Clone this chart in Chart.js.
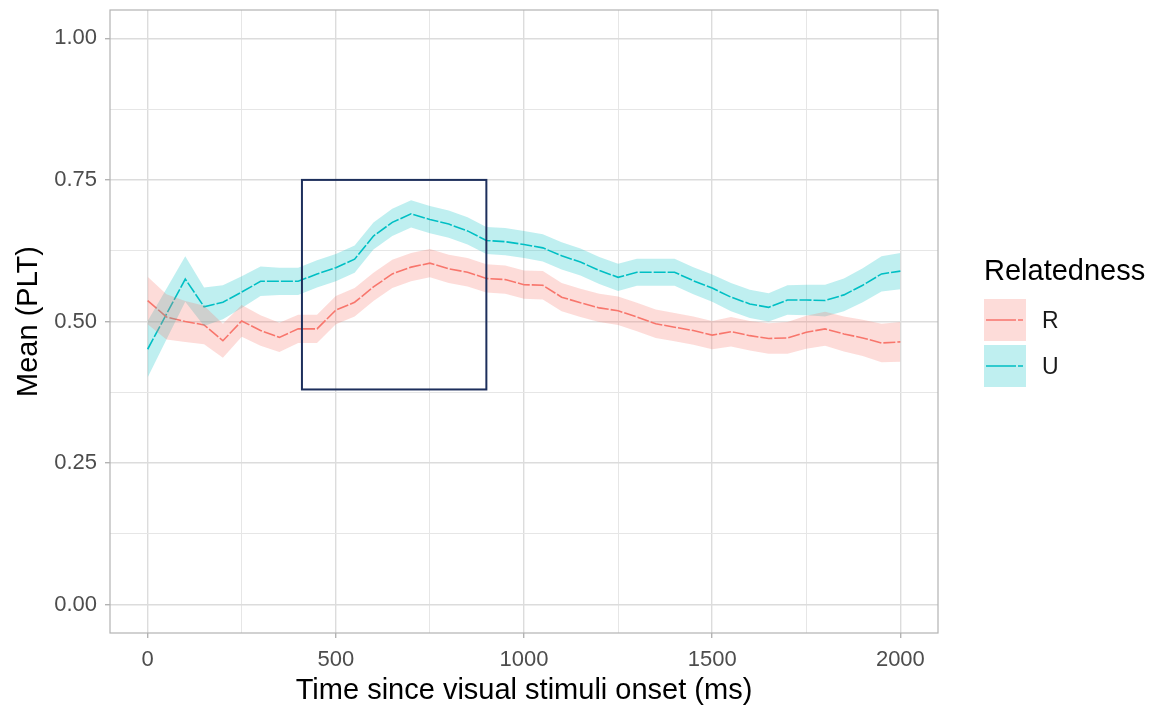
<!DOCTYPE html>
<html>
<head>
  <title>Mean PLT by relatedness</title>
  <script src="https://cdn.jsdelivr.net/npm/chart.js"></script>
  <style>
    body {
      margin: 0;
      background: #fff;
    }
  </style>
</head>
<body>
  <canvas id="pltChart" width="1159" height="710"></canvas>

  <script>
    // time since visual stimuli onset (ms)
    const times = [0, 50, 100, 150, 200, 250, 300, 350, 400, 450, 500, 550, 600, 650, 700, 750, 800, 850, 900, 950,
      1000, 1050, 1100, 1150, 1200, 1250, 1300, 1350, 1400, 1450, 1500, 1550, 1600, 1650, 1700, 1750, 1800, 1850, 1900, 1950, 2000];

    // related (R)
    const meanR = [0.537, 0.508, 0.500, 0.494, 0.466, 0.501, 0.484, 0.472, 0.487, 0.487, 0.520, 0.534, 0.561, 0.584, 0.596, 0.603, 0.593, 0.587, 0.576, 0.574,
      0.565, 0.564, 0.543, 0.533, 0.524, 0.519, 0.508, 0.496, 0.490, 0.484, 0.476, 0.482, 0.475, 0.470, 0.471, 0.481, 0.487, 0.478, 0.471, 0.462, 0.464];
    const ciR = [0.042, 0.040, 0.036, 0.034, 0.030, 0.028, 0.027, 0.026, 0.025, 0.025, 0.025, 0.025, 0.025, 0.025, 0.025, 0.025, 0.025, 0.025, 0.025, 0.025,
      0.025, 0.025, 0.025, 0.025, 0.025, 0.025, 0.025, 0.025, 0.025, 0.025, 0.025, 0.026, 0.026, 0.027, 0.028, 0.029, 0.030, 0.031, 0.032, 0.034, 0.035];

    // unrelated (U)
    const meanU = [0.451, 0.513, 0.575, 0.526, 0.534, 0.552, 0.571, 0.571, 0.571, 0.584, 0.595, 0.610, 0.651, 0.675, 0.690, 0.680, 0.672, 0.660, 0.643, 0.641,
      0.636, 0.630, 0.616, 0.605, 0.590, 0.578, 0.587, 0.587, 0.587, 0.572, 0.559, 0.543, 0.531, 0.525, 0.538, 0.538, 0.537, 0.547, 0.564, 0.584, 0.589];
    const ciU = [0.050, 0.045, 0.040, 0.034, 0.030, 0.028, 0.026, 0.024, 0.024, 0.024, 0.024, 0.024, 0.024, 0.024, 0.024, 0.024, 0.024, 0.024, 0.024, 0.024,
      0.024, 0.024, 0.024, 0.024, 0.024, 0.024, 0.024, 0.024, 0.024, 0.024, 0.024, 0.025, 0.025, 0.025, 0.026, 0.027, 0.028, 0.029, 0.030, 0.031, 0.032];

    // analysis window marked on the plot
    const windowX = [410, 900];
    const windowY = [0.38, 0.75];

    const xTicks = [0, 250, 500, 750, 1000, 1250, 1500, 1750, 2000];
    const yTicks = [0, 0.125, 0.25, 0.375, 0.5, 0.625, 0.75, 0.875, 1];

    const groups = ['R', 'U'];
    const lineColors = ['#F8766D', '#00BFC4'];
    const bandColors = ['rgba(248,118,109,0.26)', 'rgba(0,191,196,0.25)'];

    Chart.defaults.font.family = "'Liberation Sans', Arial, sans-serif";

    const pts = (vals) => times.map((t, i) => ({ x: t, y: vals[i] }));
    const bandDs = (vals, ci, sign, fill, color) => ({
      data: pts(vals.map((v, i) => v + sign * ci[i])),
      borderWidth: 0,
      pointRadius: 0,
      fill: fill,
      backgroundColor: color,
      tension: 0
    });
    const lineDs = (label, vals, color) => ({
      label: label,
      data: pts(vals),
      borderColor: color,
      borderWidth: 1.6,
      borderDash: [12, 2],
      pointRadius: 0,
      fill: false,
      tension: 0
    });

    const isMajor = (v, step) => Math.abs(v / step - Math.round(v / step)) < 1e-6;

    const overlay = {
      id: 'overlay',
      afterDatasetsDraw(chart) {
        const { ctx, chartArea: a, scales: { x, y } } = chart;
        ctx.save();

        // window rectangle
        ctx.strokeStyle = '#1d2f5c';
        ctx.lineWidth = 2;
        const x0 = x.getPixelForValue(windowX[0]);
        const x1 = x.getPixelForValue(windowX[1]);
        const y0 = y.getPixelForValue(windowY[1]);
        const y1 = y.getPixelForValue(windowY[0]);
        ctx.strokeRect(x0, y0, x1 - x0, y1 - y0);

        // panel border
        ctx.strokeStyle = '#b3b3b3';
        ctx.lineWidth = 1.2;
        ctx.strokeRect(a.left, a.top, a.right - a.left, a.bottom - a.top);

        // legend
        const lx = a.right + 46;
        ctx.fillStyle = '#000';
        ctx.font = "29px 'Liberation Sans', Arial, sans-serif";
        ctx.textBaseline = 'middle';
        ctx.textAlign = 'left';
        ctx.fillText('Relatedness', lx, 272);

        groups.forEach((g, i) => {
          const ky = 299 + i * 46;
          ctx.fillStyle = bandColors[i];
          ctx.fillRect(lx, ky, 42, 42);
          ctx.strokeStyle = lineColors[i];
          ctx.lineWidth = 1.6;
          ctx.setLineDash([30, 2, 5, 2]);
          ctx.beginPath();
          ctx.moveTo(lx + 2, ky + 21);
          ctx.lineTo(lx + 40, ky + 21);
          ctx.stroke();
          ctx.setLineDash([]);
          ctx.fillStyle = '#1a1a1a';
          ctx.font = "23px 'Liberation Sans', Arial, sans-serif";
          ctx.fillText(g, lx + 58, ky + 23);
        });

        ctx.restore();
      }
    };

    new Chart(document.getElementById('pltChart'), {
      type: 'line',
      data: {
        datasets: [
          bandDs(meanR, ciR, 1, '+1', bandColors[0]),
          bandDs(meanR, ciR, -1, false, bandColors[0]),
          bandDs(meanU, ciU, 1, '+1', bandColors[1]),
          bandDs(meanU, ciU, -1, false, bandColors[1]),
          lineDs('R', meanR, lineColors[0]),
          lineDs('U', meanU, lineColors[1])
        ]
      },
      options: {
        responsive: false,
        animation: false,
        layout: { padding: { left: 0, top: 10, right: 221, bottom: 0 } },
        plugins: {
          legend: { display: false },
          tooltip: { enabled: false }
        },
        scales: {
          x: {
            type: 'linear',
            min: -100,
            max: 2100,
            afterBuildTicks: s => { s.ticks = xTicks.map(v => ({ value: v })); },
            afterFit: s => { s.height = 77; s.paddingLeft = 0; s.paddingRight = 0; },
            ticks: {
              autoSkip: false,
              maxRotation: 0,
              padding: 9,
              color: '#4d4d4d',
              font: { size: 22 },
              callback: v => isMajor(v, 500) ? String(v) : ''
            },
            grid: {
              color: c => isMajor(c.tick.value, 500) ? '#dcdcdc' : '#e6e6e6',
              lineWidth: c => isMajor(c.tick.value, 500) ? 1.4 : 1,
              tickColor: c => isMajor(c.tick.value, 500) ? '#b3b3b3' : 'rgba(0,0,0,0)',
              tickLength: 5
            },
            border: { display: false },
            title: {
              display: true,
              text: 'Time since visual stimuli onset (ms)',
              color: '#000',
              font: { size: 29 },
              padding: { top: 0, bottom: 2 }
            }
          },
          y: {
            type: 'linear',
            min: -0.05,
            max: 1.05,
            afterBuildTicks: s => { s.ticks = yTicks.map(v => ({ value: v })); },
            afterFit: s => { s.width = 110; s.paddingTop = 0; s.paddingBottom = 0; },
            ticks: {
              padding: 8,
              color: '#4d4d4d',
              font: { size: 22 },
              callback: v => isMajor(v, 0.25) ? v.toFixed(2) : ''
            },
            grid: {
              color: c => isMajor(c.tick.value, 0.25) ? '#dcdcdc' : '#e6e6e6',
              lineWidth: c => isMajor(c.tick.value, 0.25) ? 1.4 : 1,
              tickColor: c => isMajor(c.tick.value, 0.25) ? '#b3b3b3' : 'rgba(0,0,0,0)',
              tickLength: 5
            },
            border: { display: false },
            title: {
              display: true,
              text: 'Mean (PLT)',
              color: '#000',
              font: { size: 29 },
              padding: { top: 12, bottom: 0 }
            }
          }
        }
      },
      plugins: [overlay]
    });
  </script>
</body>
</html>
